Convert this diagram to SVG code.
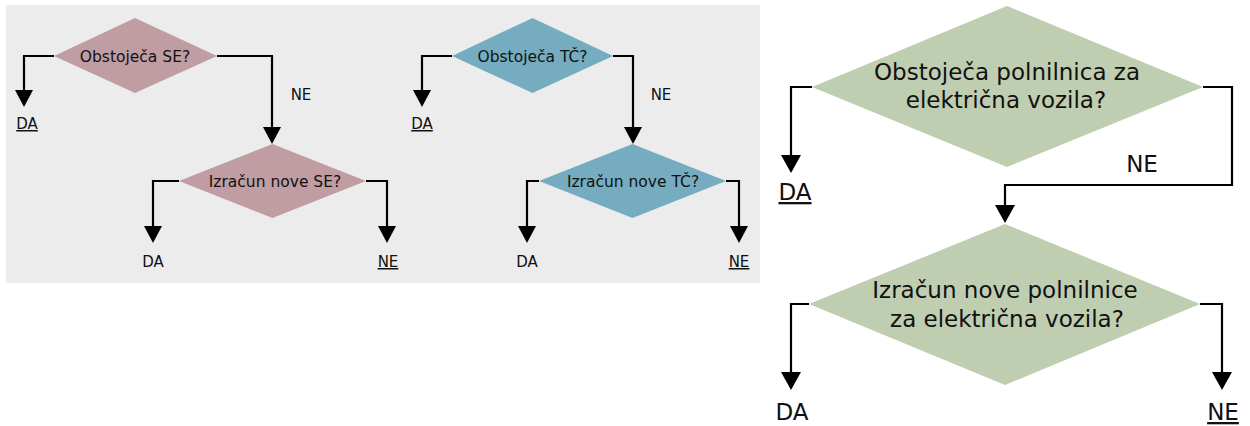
<svg xmlns="http://www.w3.org/2000/svg" width="1250" height="426" viewBox="0 0 1250 426">
<style>
.bg{fill:#ececec}
.se{fill:#c09ca3}
.tc{fill:#76acc0}
.ev{fill:#bfcdb0}
.t{font-family:"DejaVu Sans",Verdana,sans-serif;fill:#111;text-anchor:middle}
.s{font-size:15.5px}
.b{font-size:23px}
.l{font-size:15px}
.u{text-decoration:underline}
.c{fill:none;stroke:#000;stroke-width:2.2}
</style>
<defs>
<marker id="as" viewBox="0 0 17 18" refX="0" refY="9" markerWidth="17" markerHeight="18" markerUnits="userSpaceOnUse" orient="auto"><path d="M0,0 L17,9 L0,18 z" fill="#000"/></marker>
<marker id="ab" viewBox="0 0 18 20" refX="0" refY="10" markerWidth="18" markerHeight="20" markerUnits="userSpaceOnUse" orient="auto"><path d="M0,0 L18,10 L0,20 z" fill="#000"/></marker>
</defs>
<rect class="bg" x="6" y="5" width="754" height="278"/>
<g id="connectors">
<path class="c" marker-end="url(#as)" d="M54,56 H24 V90"/>
<path class="c" marker-end="url(#as)" d="M217,56 H272 V127"/>
<path class="c" marker-end="url(#as)" d="M179,181 H153 V226"/>
<path class="c" marker-end="url(#as)" d="M366,181 H387 V226"/>
<path class="c" marker-end="url(#as)" d="M452,56 H422 V90"/>
<path class="c" marker-end="url(#as)" d="M613,56 H633 V127"/>
<path class="c" marker-end="url(#as)" d="M539,181 H527 V226"/>
<path class="c" marker-end="url(#as)" d="M726,181 H739 V226"/>
<path class="c" marker-end="url(#ab)" d="M812,87 H791 V155"/>
<path class="c" marker-end="url(#ab)" d="M1203,87 H1232 V185 H1005 V205"/>
<path class="c" marker-end="url(#ab)" d="M809,304 H791 V372"/>
<path class="c" marker-end="url(#ab)" d="M1200,304 H1222 V372"/>
</g>
<g id="se1"><polygon class="se" points="135,18 217,56 135,93 54,56"/><text class="t s" x="135" y="62">Obstoječa SE?</text></g>
<g id="se2"><polygon class="se" points="272.5,144 366,181 272.5,218 179,181"/><text class="t s" x="275" y="187">Izračun nove SE?</text></g>
<g id="tc1"><polygon class="tc" points="532.5,18 613,56 532.5,93 452,56"/><text class="t s" x="532.5" y="62">Obstoječa TČ?</text></g>
<g id="tc2"><polygon class="tc" points="632.5,144 726,181 632.5,218 539,181"/><text class="t s" x="633" y="187">Izračun nove TČ?</text></g>
<g id="ev1"><polygon class="ev" points="1007,6 1203,87 1007,167 812,87"/><text class="t b" x="1007" y="80">Obstoječa polnilnica za</text><text class="t b" x="1006" y="108">električna vozila?</text></g>
<g id="ev2"><polygon class="ev" points="1005,224 1200,304 1005,385 809,304"/><text class="t b" x="1005" y="298">Izračun nove polnilnice</text><text class="t b" x="1007" y="327">za električna vozila?</text></g>
<g id="labels">
<text class="t l u" x="27" y="129">DA</text>
<text class="t l" x="301" y="100">NE</text>
<text class="t l" x="153" y="267">DA</text>
<text class="t l u" x="388" y="267">NE</text>
<text class="t l u" x="422" y="129">DA</text>
<text class="t l" x="661" y="100">NE</text>
<text class="t l" x="527" y="267">DA</text>
<text class="t l u" x="739" y="267">NE</text>
<text class="t b u" x="795" y="200">DA</text>
<text class="t b" x="1142" y="172">NE</text>
<text class="t b" x="792" y="420">DA</text>
<text class="t b u" x="1223" y="420">NE</text>
</g>
</svg>
